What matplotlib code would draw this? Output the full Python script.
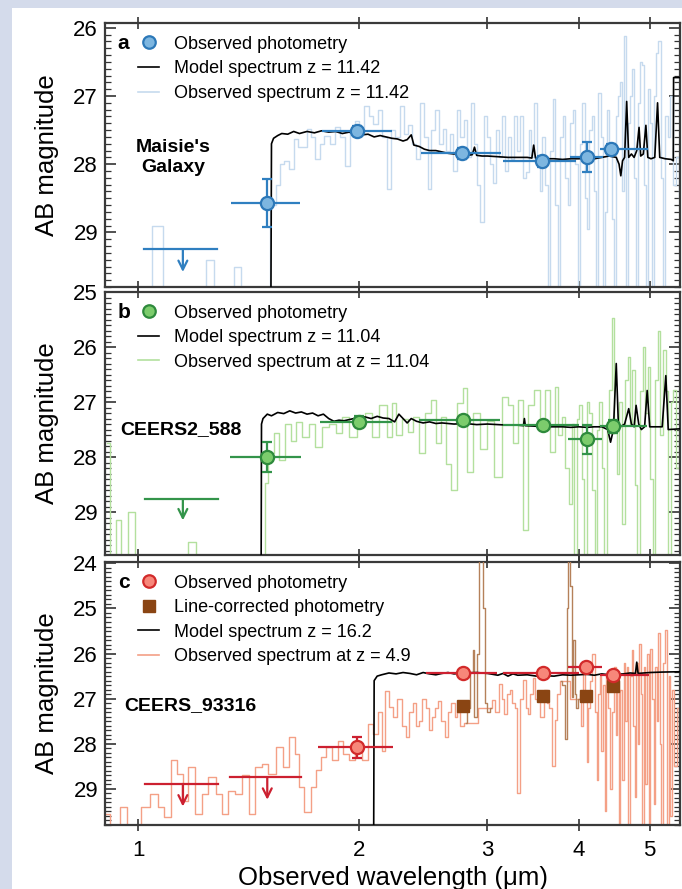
import numpy as np
import matplotlib
matplotlib.use('Agg')
import matplotlib.pyplot as plt
from matplotlib.lines import Line2D
from matplotlib.patches import Rectangle
from matplotlib.ticker import MultipleLocator, NullLocator

plt.rcParams['font.family'] = ['Liberation Sans', 'DejaVu Sans']

# ---------------- panel a : Maisie's Galaxy ----------------
phot_a_wave = [1.50, 1.99, 2.77, 3.56, 4.10, 4.43]
phot_a_mag = [28.57, 27.51, 27.84, 27.96, 27.89, 27.77]
phot_a_wlo = [1.337, 1.78, 2.43, 3.15, 3.89, 4.28]
phot_a_whi = [1.665, 2.22, 3.13, 3.97, 4.31, 4.98]
phot_a_err = [0.35, 0.07, 0.08, 0.08, 0.22, 0.07]
lim_a_wave = [1.15]
lim_a_mag = [29.25]
lim_a_wlo = [1.016]
lim_a_whi = [1.28]

model_a_wave = [0.90, 1.515, 1.52, 1.53, 1.55, 1.57, 1.60, 1.63, 1.66, 1.70, 1.74, 1.78, 1.82,
                1.86, 1.90, 1.94, 1.98, 2.02, 2.06, 2.10, 2.14, 2.18, 2.22, 2.26, 2.30, 2.33,
                2.36, 2.38, 2.42, 2.46, 2.50, 2.55, 2.60, 2.65, 2.70, 2.74, 2.78, 2.82, 2.86,
                2.88, 2.90, 2.95, 3.00, 3.10, 3.20, 3.30, 3.40, 3.45, 3.47, 3.49, 3.60, 3.70,
                3.80, 3.90, 4.00, 4.10, 4.20, 4.30, 4.40, 4.50, 4.54, 4.565, 4.59, 4.62, 4.65,
                4.68, 4.72, 4.76, 4.80, 4.835, 4.86, 4.90, 4.94, 4.97, 5.02, 5.08, 5.125, 5.16,
                5.25, 5.35, 5.385, 5.39, 5.60]
model_a_mag = [32.0, 32.0, 27.70, 27.62, 27.58, 27.55, 27.56, 27.52, 27.55, 27.52, 27.54, 27.51,
               27.53, 27.52, 27.55, 27.53, 27.55, 27.57, 27.56, 27.60, 27.58, 27.60, 27.62, 27.63,
               27.66, 27.64, 27.57, 27.72, 27.74, 27.78, 27.80, 27.80, 27.82, 27.84, 27.85, 27.84,
               27.86, 27.87, 27.86, 27.75, 27.87, 27.88, 27.88, 27.89, 27.90, 27.90, 27.90, 27.91,
               27.72, 27.91, 27.92, 27.92, 27.93, 27.92, 27.92, 27.91, 27.92, 27.90, 27.88, 27.90,
               28.00, 28.17, 27.95, 27.90, 27.08, 27.90, 27.85, 27.90, 27.80, 27.46, 27.88, 27.85,
               27.43, 27.90, 27.92, 27.90, 27.10, 27.90, 27.92, 27.93, 27.95, 26.73, 26.73]

spec_a_wave = [0.90, 0.96, 1.02, 1.07, 1.09, 1.15, 1.21, 1.26, 1.28, 1.33, 1.37, 1.39, 1.44,
               1.50, 1.53, 1.55, 1.57, 1.59, 1.62, 1.64, 1.66, 1.69, 1.71, 1.73, 1.76, 1.78,
               1.81, 1.84, 1.87, 1.90, 1.93, 1.96, 1.99, 2.02, 2.05, 2.08, 2.11, 2.14, 2.17,
               2.20, 2.23, 2.26, 2.29, 2.32, 2.35, 2.38, 2.41, 2.44, 2.47, 2.50, 2.53, 2.56,
               2.59, 2.62, 2.65, 2.68, 2.71, 2.74, 2.77, 2.80, 2.83, 2.86, 2.89, 2.92, 2.95,
               2.98, 3.01, 3.04, 3.07, 3.10, 3.13, 3.16, 3.19, 3.22, 3.25, 3.28, 3.31, 3.34,
               3.37, 3.40, 3.43, 3.46, 3.49, 3.52, 3.55, 3.58, 3.61, 3.64, 3.67, 3.70, 3.73,
               3.76, 3.79, 3.82, 3.85, 3.88, 3.91, 3.94, 3.97, 4.00, 4.03, 4.06, 4.09, 4.12,
               4.15, 4.18, 4.21, 4.24, 4.27, 4.30, 4.33, 4.36, 4.39, 4.42, 4.45, 4.48, 4.51,
               4.54, 4.57, 4.60, 4.63, 4.66, 4.69, 4.72, 4.75, 4.78, 4.81, 4.84, 4.87, 4.90,
               4.93, 4.96, 4.99, 5.02, 5.05, 5.09, 5.12, 5.16, 5.19, 5.23, 5.27, 5.31, 5.35,
               5.40, 5.45, 5.50]
spec_a_mag = [29.95, 29.95, 29.95, 28.90, 29.95, 29.95, 29.95, 29.40, 29.95, 29.95, 29.50, 29.95,
              29.95, 29.95, 28.60, 28.30, 28.00, 27.95, 28.07, 27.63, 27.75, 27.75, 27.49, 27.60,
              27.93, 27.70, 27.59, 27.70, 27.46, 27.60, 28.02, 27.50, 27.37, 27.50, 27.15, 27.30,
              27.41, 27.20, 27.60, 28.36, 27.50, 27.60, 27.15, 27.55, 27.43, 27.70, 27.93, 27.10,
              27.60, 28.36, 27.50, 27.20, 27.70, 27.49, 27.80, 27.55, 28.10, 27.20, 27.60, 27.35,
              27.90, 27.10, 27.70, 28.30, 28.85, 27.29, 27.60, 28.00, 28.27, 27.50, 27.90, 27.30,
              28.10, 27.60, 27.93, 27.30, 27.80, 27.29, 28.20, 28.12, 27.50, 27.90, 27.10, 28.00,
              28.39, 27.60, 28.30, 29.90, 27.80, 27.05, 28.60, 29.90, 27.60, 27.29, 28.20, 28.60,
              27.40, 27.20, 28.00, 29.90, 27.70, 27.10, 28.50, 28.95, 27.50, 27.30, 28.40, 29.90,
              26.95, 27.60, 29.90, 28.70, 27.20, 27.70, 28.80, 29.90, 27.30, 27.00, 26.80, 28.40,
              26.12, 29.90, 27.40, 27.00, 26.61, 28.20, 29.90, 27.10, 26.50, 26.55, 28.30, 29.90,
              26.90, 27.40, 29.90, 27.00, 26.37, 26.20, 28.20, 29.90, 27.30, 27.60, 27.00, 28.30,
              27.90, 28.50]

# ---------------- panel b : CEERS2_588 ----------------
phot_b_wave = [1.50, 2.00, 2.78, 3.57, 4.10, 4.45]
phot_b_mag = [28.00, 27.36, 27.33, 27.42, 27.68, 27.44]
phot_b_wlo = [1.336, 1.77, 2.42, 3.15, 3.87, 4.28]
phot_b_whi = [1.67, 2.22, 3.12, 4.00, 4.30, 4.95]
phot_b_err = [0.27, 0.10, 0.06, 0.06, 0.26, 0.12]
lim_b_wave = [1.15]
lim_b_mag = [28.77]
lim_b_wlo = [1.02]
lim_b_whi = [1.285]

model_b_wave = [0.90, 1.47, 1.473, 1.48, 1.50, 1.52, 1.55, 1.58, 1.61, 1.64, 1.67, 1.70, 1.73,
                1.76, 1.79, 1.82, 1.85, 1.88, 1.91, 1.94, 1.97, 2.00, 2.04, 2.08, 2.12, 2.16,
                2.20, 2.24, 2.27, 2.30, 2.33, 2.36, 2.40, 2.45, 2.50, 2.55, 2.60, 2.70, 2.80,
                2.90, 3.00, 3.10, 3.20, 3.30, 3.36, 3.37, 3.38, 3.50, 3.60, 3.70, 3.80, 3.90,
                4.00, 4.10, 4.20, 4.30, 4.38, 4.42, 4.46, 4.50, 4.53, 4.56, 4.62, 4.68, 4.72,
                4.76, 4.79, 4.83, 4.87, 4.92, 4.96, 5.00, 5.10, 5.20, 5.26, 5.30, 5.60]
model_b_mag = [32.0, 32.0, 27.40, 27.30, 27.22, 27.25, 27.19, 27.21, 27.16, 27.20, 27.18, 27.22,
               27.20, 27.25, 27.22, 27.30, 27.35, 27.33, 27.34, 27.32, 27.30, 27.28, 27.27, 27.30,
               27.26, 27.29, 27.30, 27.36, 27.22, 27.30, 27.38, 27.30, 27.35, 27.38, 27.36, 27.39,
               27.38, 27.40, 27.39, 27.41, 27.40, 27.41, 27.42, 27.42, 27.43, 27.30, 27.43, 27.44,
               27.45, 27.45, 27.45, 27.46, 27.45, 27.46, 27.45, 27.45, 27.50, 27.73, 27.50, 26.30,
               27.40, 27.45, 27.40, 27.12, 27.40, 27.45, 27.06, 27.40, 27.50, 27.45, 26.79, 27.45,
               27.45, 27.45, 26.52, 27.50, 27.48]

spec_b_wave = [0.905, 0.925, 0.94, 0.955, 0.98, 1.00, 1.05, 1.10, 1.15, 1.19, 1.21, 1.26, 1.31,
               1.36, 1.41, 1.46, 1.48, 1.495, 1.515, 1.545, 1.57, 1.60, 1.63, 1.655, 1.69, 1.73,
               1.76, 1.80, 1.84, 1.88, 1.92, 1.96, 2.02, 2.06, 2.11, 2.16, 2.21, 2.23, 2.27,
               2.32, 2.35, 2.40, 2.44, 2.49, 2.53, 2.57, 2.61, 2.65, 2.70, 2.76, 2.79, 2.84,
               2.90, 2.96, 3.03, 3.10, 3.18, 3.23, 3.28, 3.33, 3.38, 3.44, 3.51, 3.57, 3.62,
               3.68, 3.73, 3.77, 3.81, 3.86, 3.90, 3.93, 3.96, 3.99, 4.02, 4.05, 4.09, 4.12,
               4.15, 4.19, 4.22, 4.25, 4.28, 4.32, 4.35, 4.39, 4.42, 4.46, 4.49, 4.53, 4.56,
               4.61, 4.65, 4.68, 4.72, 4.75, 4.79, 4.83, 4.87, 4.91, 4.95, 4.99, 5.03, 5.07,
               5.11, 5.15, 5.19, 5.23, 5.28, 5.32, 5.36, 5.40, 5.45, 5.50]
spec_b_mag = [27.75, 29.90, 29.15, 29.90, 29.00, 29.90, 29.90, 29.90, 29.90, 29.55, 29.90, 29.90,
              29.90, 29.90, 29.90, 29.90, 29.90, 28.48, 27.93, 27.57, 28.06, 27.39, 27.70, 27.36,
              27.64, 27.39, 27.82, 27.45, 27.39, 27.57, 27.27, 27.64, 27.39, 27.20, 27.64, 27.06,
              27.64, 27.02, 27.60, 27.30, 27.55, 27.27, 27.93, 27.20, 26.97, 27.75, 27.27, 28.12,
              28.60, 27.02, 26.75, 28.27, 27.20, 27.85, 27.35, 28.36, 26.91, 27.06, 27.75, 26.97,
              29.33, 27.06, 26.79, 27.50, 26.79, 27.90, 26.73, 27.60, 27.27, 28.20, 28.85, 27.40,
              29.90, 27.30, 27.06, 28.40, 29.90, 27.00, 27.20, 28.60, 29.90, 27.50, 27.00, 28.20,
              29.90, 27.40, 26.79, 25.48, 27.57, 28.30, 27.00, 29.21, 26.60, 26.18, 27.40, 26.42,
              28.50, 29.90, 26.80, 26.00, 27.20, 26.36, 28.40, 29.90, 26.60, 25.70, 27.60, 26.06,
              26.80, 29.90, 27.00, 26.79, 28.20, 27.50]

# ---------------- panel c : CEERS_93316 ----------------
phot_c_wave = [1.99, 2.78, 3.57, 4.09, 4.45]
phot_c_mag = [28.08, 26.43, 26.44, 26.30, 26.47]
phot_c_wlo = [1.76, 2.47, 3.15, 3.87, 4.28]
phot_c_whi = [2.23, 3.09, 4.00, 4.30, 4.99]
phot_c_err = [0.23, 0.05, 0.05, 0.08, 0.05]
lim_c_wave = [1.15, 1.50]
lim_c_mag = [28.89, 28.74]
lim_c_wlo = [1.02, 1.336]
lim_c_whi = [1.285, 1.67]
corr_c_wave = [2.78, 3.57, 4.09, 4.45]
corr_c_mag = [27.16, 26.95, 26.93, 26.72]

model_c_wave = [0.90, 2.095, 2.10, 2.12, 2.15, 2.20, 2.25, 2.30, 2.35, 2.40, 2.45, 2.50, 2.55,
                2.60, 2.65, 2.70, 2.80, 2.90, 3.00, 3.05, 3.10, 3.15, 3.20, 3.25, 3.30, 3.40,
                3.50, 3.60, 3.70, 3.80, 3.90, 4.00, 4.10, 4.20, 4.30, 4.40, 4.50, 4.60, 4.70,
                4.78, 4.80, 4.82, 5.00, 5.20, 5.60]
model_c_mag = [32.0, 32.0, 26.60, 26.50, 26.47, 26.43, 26.45, 26.42, 26.44, 26.47, 26.42, 26.45,
               26.47, 26.44, 26.42, 26.45, 26.43, 26.42, 26.44, 26.46, 26.48, 26.44, 26.50, 26.45,
               26.48, 26.47, 26.50, 26.49, 26.50, 26.47, 26.48, 26.47, 26.46, 26.48, 26.45, 26.47,
               26.46, 26.45, 26.43, 26.44, 26.19, 26.44, 26.42, 26.41, 26.40]

spec_c_wave = [0.90, 0.93, 0.955, 0.975, 0.995, 1.02, 1.055, 1.075, 1.094, 1.12, 1.14, 1.16,
               1.18, 1.21, 1.23, 1.26, 1.29, 1.31, 1.34, 1.37, 1.40, 1.43, 1.46, 1.49, 1.52,
               1.56, 1.59, 1.62, 1.65, 1.67, 1.70, 1.74, 1.76, 1.79, 1.82, 1.86, 1.89, 1.92,
               1.96, 2.00, 2.04, 2.08, 2.11, 2.14, 2.16, 2.19, 2.21, 2.24, 2.28, 2.31, 2.33,
               2.36, 2.38, 2.41, 2.43, 2.46, 2.48, 2.51, 2.53, 2.56, 2.58, 2.61, 2.64, 2.66,
               2.69, 2.72, 2.74, 2.77, 2.80, 3.03, 3.06, 3.09, 3.13, 3.15, 3.18, 3.21, 3.23,
               3.26, 3.28, 3.31, 3.34, 3.37, 3.40, 3.42, 3.45, 3.47, 3.50, 3.53, 3.56, 3.60,
               3.63, 3.66, 3.69, 3.72, 3.75, 3.78, 4.00, 4.02, 4.04, 4.06, 4.09, 4.11, 4.13,
               4.16, 4.19, 4.22, 4.24, 4.26, 4.28, 4.30, 4.33, 4.35, 4.37, 4.40, 4.43, 4.45,
               4.48, 4.50, 4.52, 4.55, 4.57, 4.59, 4.62, 4.64, 4.66, 4.69, 4.71, 4.74, 4.76,
               4.78, 4.80, 4.83, 4.85, 4.87, 4.90, 4.92, 4.94, 4.97, 5.00, 5.02, 5.05, 5.07,
               5.10, 5.12, 5.15, 5.17, 5.20, 5.23, 5.26, 5.29, 5.32, 5.35, 5.38, 5.42, 5.46,
               5.50]
spec_c_mag = [29.56, 29.90, 29.41, 29.90, 29.80, 29.41, 29.11, 29.40, 29.63, 28.37, 28.67, 29.26,
              28.52, 29.56, 29.11, 28.74, 29.11, 29.56, 29.04, 29.11, 28.70, 29.56, 28.52, 28.44,
              28.67, 28.08, 28.52, 27.85, 28.22, 28.96, 29.52, 28.96, 28.59, 28.30, 28.08, 28.37,
              27.93, 28.22, 28.37, 28.00, 28.37, 27.56, 27.78, 27.30, 28.15, 26.82, 27.19, 27.40,
              27.00, 27.60, 27.85, 27.30, 27.10, 27.60, 27.50, 27.00, 27.20, 27.70, 27.40, 27.20,
              27.05, 27.50, 27.85, 27.30, 27.10, 27.40, 27.30, 27.60, 27.55, 27.20, 27.04, 27.30,
              26.67, 27.00, 27.33, 26.90, 26.80, 27.10, 27.20, 29.10, 27.00, 26.59, 27.20, 27.33,
              26.90, 26.55, 27.00, 26.90, 27.40, 26.80, 27.10, 27.20, 28.50, 27.48, 26.90, 26.60,
              27.00, 26.90, 27.60, 26.40, 27.00, 28.40, 27.20, 26.60, 26.00, 27.30, 28.80, 26.90,
              26.50, 28.15, 26.70, 29.50, 26.50, 27.20, 29.00, 27.30, 26.30, 27.80, 26.60, 29.95,
              26.80, 28.81, 26.20, 27.50, 26.30, 29.95, 26.50, 25.93, 27.60, 29.19, 26.20, 28.00,
              25.78, 26.90, 29.95, 26.30, 28.90, 26.00, 29.95, 25.90, 27.00, 29.33, 26.30, 27.50,
              25.55, 28.00, 29.95, 26.20, 25.48, 29.90, 26.50, 29.60, 26.80, 28.50, 27.20, 28.00]

# emission-line parts of the observed spectrum (drawn in brown)
line1_wave = [2.80, 2.83, 2.855, 2.87, 2.89, 2.91, 2.93, 2.95, 2.97, 2.99, 3.01, 3.03]
line1_mag = [27.55, 27.20, 26.40, 25.93, 27.41, 26.00, 23.50, 23.50, 25.00, 27.10, 27.30, 27.20]
line2_wave = [3.78, 3.81, 3.84, 3.86, 3.88, 3.90, 3.92, 3.94, 3.96, 3.98, 4.00]
line2_mag = [26.60, 26.70, 27.90, 25.00, 23.50, 24.50, 26.96, 25.70, 26.90, 27.20, 27.00]

# ---------------- figure ----------------
fig = plt.figure(figsize=(6.82, 8.89), dpi=100, facecolor='#d4dbeb')
fig.add_artist(Rectangle((12 / 682, 0), 1, 1 - 8 / 889, transform=fig.transFigure,
                         facecolor='white', edgecolor='none', zorder=-5))

W, H = 682, 889
left, right = 105, 680


def make_axes(top, bottom):
    return fig.add_axes([left / W, 1 - bottom / H, (right - left) / W, (bottom - top) / H])


def style_axes(ax, ylim, show_xlabels):
    ax.set_xscale('log')
    ax.set_xlim(0.9, 5.5)
    ax.set_ylim(*ylim)
    ax.set_xticks([1, 2, 3, 4, 5])
    ax.xaxis.set_minor_locator(NullLocator())
    if show_xlabels:
        ax.set_xticklabels(['1', '2', '3', '4', '5'])
    else:
        ax.set_xticklabels([])
    ax.yaxis.set_major_locator(MultipleLocator(1))
    ax.yaxis.set_minor_locator(MultipleLocator(0.1))
    ax.tick_params(axis='x', which='major', direction='inout', length=9, width=1.2,
                   top=True, labelsize=16, pad=6, color='#333333')
    ax.tick_params(axis='y', which='major', direction='in', length=8, width=1.2,
                   right=True, labelsize=16, pad=5, color='#333333')
    ax.tick_params(axis='y', which='minor', direction='in', length=4, width=0.9,
                   right=True, color='#333333')
    for sp in ax.spines.values():
        sp.set_linewidth(1.6)
        sp.set_color('#3a3a3a')
    ax.set_ylabel('AB magnitude', fontsize=18.5, labelpad=10)


def draw_phot(ax, wave, mag, wlo, whi, err, fill, edge, ecol):
    w = np.array(wave)
    xerr = [w - np.array(wlo), np.array(whi) - w]
    # horizontal bars (filter widths) carry no caps
    ax.errorbar(wave, mag, xerr=xerr, fmt='none', ecolor=ecol, elinewidth=1.6, capsize=0,
                zorder=5)
    ax.errorbar(wave, mag, yerr=err, fmt='o', ms=9.5, mfc=fill, mec=edge, mew=1.6,
                ecolor=ecol, elinewidth=1.6, capsize=3.5, capthick=1.4, zorder=6)


def draw_limits(ax, wave, mag, wlo, whi, color, alen):
    for x, y, a, b in zip(wave, mag, wlo, whi):
        ax.plot([a, b], [y, y], color=color, lw=1.6, zorder=6)
        ax.annotate('', xy=(x, y + alen), xytext=(x, y),
                    arrowprops=dict(arrowstyle='->', color=color, lw=1.6, mutation_scale=16,
                                    shrinkA=0, shrinkB=0), zorder=6)


def add_legend(ax, handles, labels):
    ax.legend(handles, labels, loc='upper left', bbox_to_anchor=(0.058, 0.952), frameon=False,
              fontsize=13, handlelength=1.15, handletextpad=0.8, labelspacing=0.42,
              borderaxespad=0, borderpad=0)


# panel a
ax_a = make_axes(23, 287)
ax_a.plot(spec_a_wave, spec_a_mag, drawstyle='steps-mid', color='#c6daee', lw=1.0, zorder=2)
ax_a.plot(model_a_wave, model_a_mag, color='black', lw=1.2, zorder=4)
draw_phot(ax_a, phot_a_wave, phot_a_mag, phot_a_wlo, phot_a_whi, phot_a_err,
          '#7db6e0', '#2c78b8', '#2f7fc0')
draw_limits(ax_a, lim_a_wave, lim_a_mag, lim_a_wlo, lim_a_whi, '#2f7fc0', 0.33)
style_axes(ax_a, (29.8, 25.93), False)
ax_a.text(0.022, 0.96, 'a', transform=ax_a.transAxes, fontsize=15, fontweight='bold',
          va='top', ha='left')
ax_a.text(1.117, 27.9, "Maisie's\nGalaxy", fontsize=14, fontweight='bold', ha='center',
          va='center', linespacing=1.25)
add_legend(ax_a,
           [Line2D([], [], marker='o', ls='none', ms=9, mfc='#7db6e0', mec='#2c78b8', mew=1.6),
            Line2D([], [], color='black', lw=1.2),
            Line2D([], [], color='#c6daee', lw=1.2)],
           ['Observed photometry', 'Model spectrum z = 11.42', 'Observed spectrum z = 11.42'])

# panel b
ax_b = make_axes(292, 555)
ax_b.plot(spec_b_wave, spec_b_mag, drawstyle='steps-mid', color='#b3e09e', lw=1.0, zorder=2)
ax_b.plot(model_b_wave, model_b_mag, color='black', lw=1.2, zorder=4)
draw_phot(ax_b, phot_b_wave, phot_b_mag, phot_b_wlo, phot_b_whi, phot_b_err,
          '#7ccc6c', '#2e8a3c', '#33944a')
draw_limits(ax_b, lim_b_wave, lim_b_mag, lim_b_wlo, lim_b_whi, '#33944a', 0.38)
style_axes(ax_b, (29.78, 25.0), False)
ax_b.text(0.022, 0.96, 'b', transform=ax_b.transAxes, fontsize=15, fontweight='bold',
          va='top', ha='left')
ax_b.text(0.945, 27.5, 'CEERS2_588', fontsize=14, fontweight='bold', ha='left', va='center')
add_legend(ax_b,
           [Line2D([], [], marker='o', ls='none', ms=9, mfc='#7ccc6c', mec='#2e8a3c', mew=1.6),
            Line2D([], [], color='black', lw=1.2),
            Line2D([], [], color='#b3e09e', lw=1.2)],
           ['Observed photometry', 'Model spectrum z = 11.04', 'Observed spectrum at z = 11.04'])

# panel c
ax_c = make_axes(562, 825)
ax_c.plot(spec_c_wave, spec_c_mag, drawstyle='steps-mid', color='#f4a086', lw=1.0, zorder=2)
ax_c.plot(line1_wave, line1_mag, drawstyle='steps-mid', color='#b5815a', lw=1.0, zorder=3)
ax_c.plot(line2_wave, line2_mag, drawstyle='steps-mid', color='#b5815a', lw=1.0, zorder=3)
ax_c.plot(model_c_wave, model_c_mag, color='black', lw=1.2, zorder=4)
ax_c.plot(corr_c_wave, corr_c_mag, ls='none', marker='s', ms=8.5, color='#8a4513', zorder=5)
draw_phot(ax_c, phot_c_wave, phot_c_mag, phot_c_wlo, phot_c_whi, phot_c_err,
          '#f7877a', '#d22a2a', '#cc2030')
draw_limits(ax_c, lim_c_wave, lim_c_mag, lim_c_wlo, lim_c_whi, '#cc2030', 0.5)
style_axes(ax_c, (29.8, 23.97), True)
ax_c.text(0.022, 0.96, 'c', transform=ax_c.transAxes, fontsize=15, fontweight='bold',
          va='top', ha='left')
ax_c.text(0.957, 27.15, 'CEERS_93316', fontsize=14, fontweight='bold', ha='left', va='center')
add_legend(ax_c,
           [Line2D([], [], marker='o', ls='none', ms=9, mfc='#f7877a', mec='#d22a2a', mew=1.6),
            Line2D([], [], marker='s', ls='none', ms=8, color='#8a4513'),
            Line2D([], [], color='black', lw=1.2),
            Line2D([], [], color='#f4a086', lw=1.2)],
           ['Observed photometry', 'Line-corrected photometry', 'Model spectrum z = 16.2',
            'Observed spectrum at z = 4.9'])
ax_c.set_xlabel('Observed wavelength (\u03bcm)', fontsize=18.5, labelpad=4)

fig.savefig('out.png', dpi=100, facecolor=fig.get_facecolor())
